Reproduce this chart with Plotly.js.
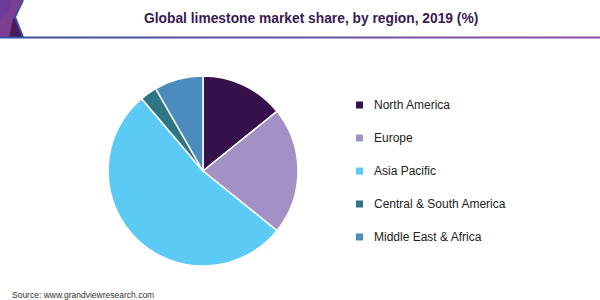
<!DOCTYPE html>
<html>
<head>
<meta charset="utf-8">
<script src="https://cdn.plot.ly/plotly-3.0.1.min.js"></script>
<style>html,body{margin:0;padding:0;background:#fff;}#chart{width:600px;height:300px;}</style>
</head>
<body>
<div id="chart"></div>
<script>
const regions = ["North America", "Europe", "Asia Pacific", "Central & South America", "Middle East & Africa"];
const shares = [14.2, 21.6, 53.0, 2.9, 8.3];
const sliceColors = ["#36104a", "#a391c6", "#5bcbf5", "#2e7585", "#4b8bbe"];
const chartTitle = "Global limestone market share, by region, 2019 (%)";
const sourceText = "Source: www.grandviewresearch.com";

const W = 600, H = 300;
const px = x => x / W;
const py = y => 1 - y / H;
const FONT = "Liberation Sans, Arial, Helvetica, sans-serif";

const shapes = [];
const annotations = [];

// header logo
function pathPx(pts) {
  return "M" + pts.map(p => px(p[0]) + "," + py(p[1])).join(" L") + " Z";
}
shapes.push({type: "path", xref: "paper", yref: "paper", path: pathPx([[0,0],[23,0],[15,17],[23,37],[0,37]]), fillcolor: "#7d3f92", line: {width: 0}});
shapes.push({type: "path", xref: "paper", yref: "paper", path: pathPx([[0,0],[12,0],[8,12],[0,20]]), fillcolor: "#6c3c9a", line: {width: 0}});
shapes.push({type: "path", xref: "paper", yref: "paper", path: pathPx([[9,37],[13,19],[15,18],[23,37]]), fillcolor: "#4a1a5c", line: {width: 0}});
shapes.push({type: "path", xref: "paper", yref: "paper", path: "M" + px(23) + "," + py(0) + " L" + px(15) + "," + py(17) + " L" + px(23) + "," + py(37), line: {color: "#3b4ea3", width: 2}});

// header rule with gradient-like segments
const nSeg = 20;
const c0 = [58, 80, 165], c1 = [142, 80, 160];
for (let i = 0; i < nSeg; i++) {
  const t = i / (nSeg - 1);
  const c = c0.map((v, k) => Math.round(v + (c1[k] - v) * t));
  shapes.push({type: "line", xref: "paper", yref: "paper", x0: px(i * W / nSeg), x1: px((i + 1) * W / nSeg), y0: py(37.5), y1: py(37.5), line: {color: "rgb(" + c.join(",") + ")", width: 2}});
}

// legend built from the data arrays
const legendY0 = 105, legendStep = 33;
regions.forEach((r, i) => {
  const yc = legendY0 + i * legendStep;
  shapes.push({type: "rect", xref: "paper", yref: "paper", x0: px(356), x1: px(363), y0: py(yc - 3.5), y1: py(yc + 3.5), fillcolor: sliceColors[i], line: {width: 0}});
  annotations.push({xref: "paper", yref: "paper", x: px(372), y: py(yc), xanchor: "left", yanchor: "middle", showarrow: false, text: r, font: {family: FONT, size: 12, color: "#222222"}});
});

annotations.push({xref: "paper", yref: "paper", x: px(311), y: py(18), xanchor: "center", yanchor: "middle", showarrow: false, text: "<b>" + chartTitle + "</b>", font: {family: FONT, size: 13.8, color: "#3a1a52"}});
annotations.push({xref: "paper", yref: "paper", x: px(10), y: py(295), xanchor: "left", yanchor: "middle", showarrow: false, text: sourceText, font: {family: FONT, size: 8.5, color: "#333333"}});

const trace = {
  type: "pie",
  labels: regions,
  values: shares,
  sort: false,
  direction: "clockwise",
  rotation: 0,
  textinfo: "none",
  hoverinfo: "label+percent",
  marker: {colors: sliceColors, line: {color: "#ffffff", width: 1.5}},
  domain: {x: [px(108), px(298)], y: [py(266), py(76)]},
  showlegend: false
};

const layout = {
  width: W, height: H,
  margin: {l: 0, r: 0, t: 0, b: 0},
  paper_bgcolor: "#ffffff",
  showlegend: false,
  shapes: shapes,
  annotations: annotations
};

Plotly.newPlot("chart", [trace], layout, {displayModeBar: false, staticPlot: true});
</script>
</body>
</html>
